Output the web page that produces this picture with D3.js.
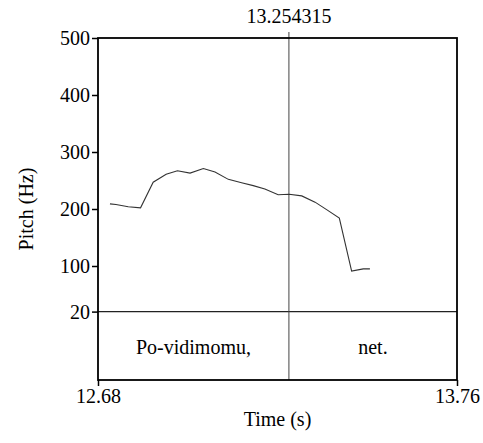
<!DOCTYPE html>
<html>
<head>
<meta charset="utf-8">
<script src="https://cdn.jsdelivr.net/npm/d3@7"></script>
<style>
  body { margin: 0; background: #fff; }
  text { font-family: "Liberation Serif", "Times New Roman", serif; font-size: 20px; fill: #000; }
</style>
</head>
<body>
<svg class="pitchPlot" width="483" height="443"></svg>
<script>
// pitch track
const times = [12.716, 12.734, 12.771, 12.808, 12.846, 12.885, 12.919, 12.957, 12.997, 13.032,
               13.072, 13.112, 13.147, 13.182, 13.222, 13.255, 13.293, 13.333, 13.370, 13.406,
               13.443, 13.478, 13.498];
const pitches = [209, 208, 204, 202, 247, 261, 267, 263, 271, 265,
                 252, 246, 241, 235, 225, 226, 223, 212, 198, 184,
                 91, 95, 95];
const yTicks = [500, 400, 300, 200, 100, 20];
const xTicks = [12.68, 13.76];
const cursorTime = 13.254315;
const intervals = [
    { start: 12.68, end: 13.254315, label: "Po-vidimomu," },
    { start: 13.254315, end: 13.76, label: "net." }
];

const svg = d3.select(".pitchPlot");

const plotLeft = 98, plotRight = 457;
const plotTop = 38, pitchBottom = 311.6, plotBottom = 380;

const x = d3.scaleLinear().domain([12.68, 13.76]).range([plotLeft, plotRight]);
const y = d3.scaleLinear().domain([20, 500]).range([pitchBottom, plotTop]);

// text tier labels
intervals.forEach(d => {
    svg.append("text")
        .attr("x", (x(d.start) + x(d.end)) / 2)
        .attr("y", (pitchBottom + plotBottom) / 2 + 1)
        .attr("text-anchor", "middle")
        .attr("dominant-baseline", "central")
        .text(d.label);
});

// separator between pitch panel and tier
svg.append("line")
    .attr("x1", plotLeft).attr("x2", plotRight)
    .attr("y1", pitchBottom).attr("y2", pitchBottom)
    .style("stroke", "#222").style("stroke-width", 1.2);

// cursor
svg.append("line")
    .attr("x1", x(cursorTime)).attr("x2", x(cursorTime))
    .attr("y1", plotTop - 6).attr("y2", plotBottom)
    .style("stroke", "#444").style("stroke-width", 1);

svg.append("text")
    .attr("x", x(cursorTime))
    .attr("y", 23)
    .attr("text-anchor", "middle")
    .text(cursorTime.toFixed(6));

// pitch line
const line = d3.line()
    .x((d, i) => x(times[i]))
    .y(d => y(d));

svg.append("path")
    .datum(pitches)
    .attr("d", line)
    .style("fill", "none")
    .style("stroke", "#333")
    .style("stroke-width", 1.1);

// frame
svg.append("rect")
    .attr("x", plotLeft).attr("y", plotTop)
    .attr("width", plotRight - plotLeft).attr("height", plotBottom - plotTop)
    .style("fill", "none")
    .style("stroke", "#000")
    .style("stroke-width", 1.8);

// y axis
const yAxis = d3.axisLeft(y).tickValues(yTicks).tickSize(6).tickPadding(2).tickFormat(d3.format("d"));
const yg = svg.append("g").attr("transform", `translate(${plotLeft},0)`).call(yAxis);
yg.select(".domain").remove();
yg.selectAll(".tick line").style("stroke", "#000").style("stroke-width", 1.5);
yg.selectAll("text").style("font-size", "20px").style("font-family", "Liberation Serif");

// x axis
const xAxis = d3.axisBottom(x).tickValues(xTicks).tickSize(6).tickPadding(3).tickFormat(d3.format(".2f"));
const xg = svg.append("g").attr("transform", `translate(0,${plotBottom})`).call(xAxis);
xg.select(".domain").remove();
xg.selectAll(".tick line").style("stroke", "#000").style("stroke-width", 1.5);
xg.selectAll("text").style("font-size", "20px").style("font-family", "Liberation Serif");

// axis titles
svg.append("text")
    .attr("x", (plotLeft + plotRight) / 2)
    .attr("y", 426)
    .attr("text-anchor", "middle")
    .text("Time (s)");

svg.append("text")
    .attr("transform", "translate(33,209) rotate(-90)")
    .attr("text-anchor", "middle")
    .text("Pitch (Hz)");
</script>
</body>
</html>
